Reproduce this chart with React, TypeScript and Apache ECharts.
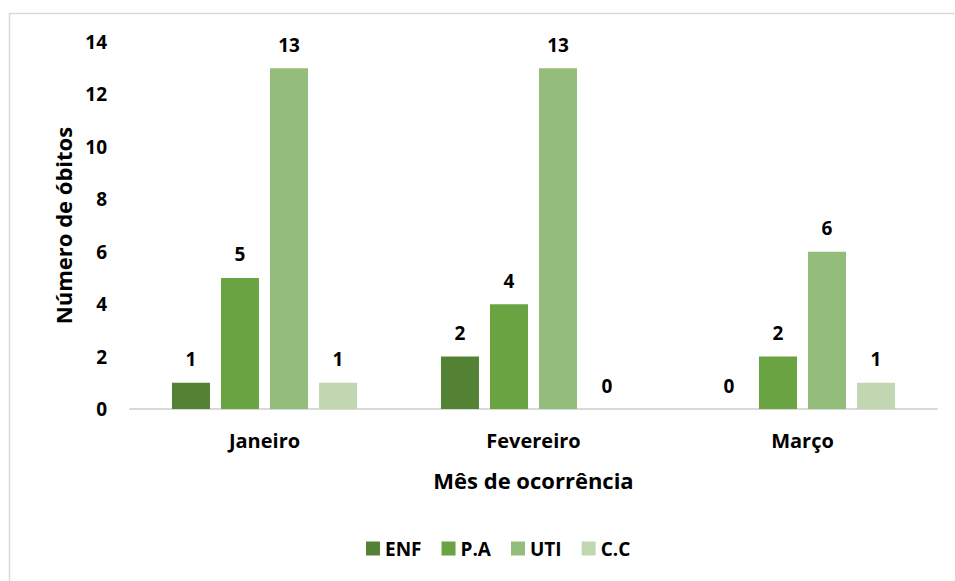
import React, { useEffect, useRef } from "react";
import * as echarts from "echarts";

const categories = ["Janeiro", "Fevereiro", "Março"];
const seriesNames = ["ENF", "P.A", "UTI", "C.C"];
const enfValues = [1, 2, 0];
const paValues = [5, 4, 2];
const utiValues = [13, 13, 6];
const ccValues = [1, 0, 1];
const colors = ["#548235", "#6aa342", "#94bd7b", "#c0d7b2"];

const FONT = "'Open Sans', 'Noto Sans', sans-serif";

export default function App() {
  const ref = useRef<HTMLDivElement>(null);
  useEffect(() => {
    if (!ref.current) return;
    const chart = echarts.init(ref.current, undefined, { renderer: "svg" });
    const values = [enfValues, paValues, utiValues, ccValues];
    const labelStyle = {
      show: true,
      position: "top",
      distance: 14,
      color: "#000",
      fontWeight: "bold",
      fontSize: 19,
      fontFamily: FONT,
    };
    chart.setOption({
      animation: false,
      backgroundColor: "#fff",
      color: colors,
      graphic: [
        {
          type: "rect",
          shape: { x: 9.5, y: 13.5, width: 1000, height: 700 },
          style: { fill: "none", stroke: "#d9d9d9", lineWidth: 1.5 },
          silent: true,
          z: -10,
        },
      ],
      grid: { left: 130, right: 18, top: 42, bottom: 172, containLabel: false },
      legend: {
        bottom: 18,
        left: 361,
        icon: "rect",
        itemWidth: 14,
        itemHeight: 14,
        itemGap: 20,
        textStyle: { color: "#000", fontWeight: "bold", fontSize: 19, fontFamily: FONT },
        data: seriesNames,
      },
      xAxis: {
        type: "category",
        data: categories,
        name: "Mês de ocorrência",
        nameLocation: "middle",
        nameGap: 60,
        nameTextStyle: { color: "#000", fontWeight: "bold", fontSize: 22, fontFamily: FONT },
        axisLine: { show: true, lineStyle: { color: "#d9d9d9", width: 2 } },
        axisTick: { show: false },
        axisLabel: {
          color: "#000",
          fontWeight: "bold",
          fontSize: 20,
          fontFamily: FONT,
          margin: 21,
        },
      },
      yAxis: {
        type: "value",
        min: 0,
        max: 14,
        interval: 2,
        name: "Número de óbitos",
        nameLocation: "middle",
        nameGap: 56,
        nameTextStyle: { color: "#000", fontWeight: "bold", fontSize: 22, fontFamily: FONT },
        axisLine: { show: false },
        axisTick: { show: false },
        splitLine: { show: false },
        axisLabel: {
          color: "#000",
          fontWeight: "bold",
          fontSize: 19,
          fontFamily: FONT,
          margin: 23,
        },
      },
      series: seriesNames.map((name, i) => ({
        name,
        type: "bar",
        data: values[i],
        barWidth: 38,
        barGap: "29%",
        itemStyle: { color: colors[i] },
        label: labelStyle,
      })),
    });
    return () => chart.dispose();
  }, []);
  return (
    <div
      ref={ref}
      style={{ position: "fixed", left: 0, top: 0, width: 955, height: 581 }}
    />
  );
}
